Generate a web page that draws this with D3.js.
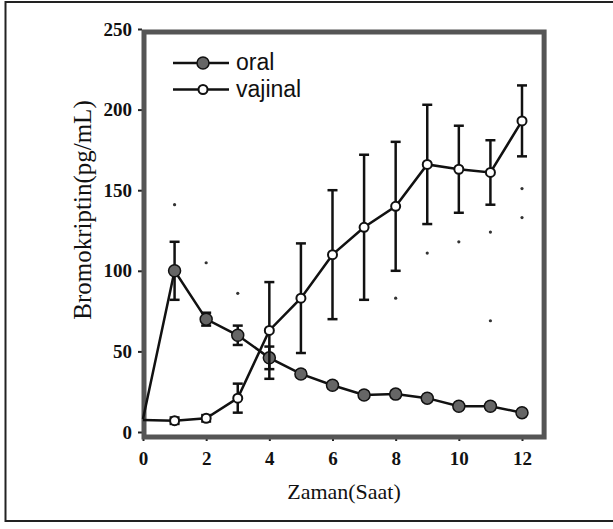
<!DOCTYPE html>
<html>
<head>
<meta charset="utf-8">
<script src="https://cdn.jsdelivr.net/npm/d3@7"></script>
<style>
  html, body { margin: 0; padding: 0; background: #fff; }
  svg { display: block; }
</style>
</head>
<body>
<svg id="chart" width="613" height="529"></svg>
<script>
// ---- data ----
const hours = [0, 1, 2, 3, 4, 5, 6, 7, 8, 9, 10, 11, 12];
const oralMean = [8, 100, 70, 60, 46, 36, 29, 23, 23.5, 21, 16, 16, 12];
const oralErr = [0, 18, 4, 6, 7, 2, 2, 2, 2, 2, 2, 2, 2];
const vajinalMean = [7.5, 7, 8.5, 21, 63, 83, 110, 127, 140, 166, 163, 161, 193];
const vajinalErr = [0, 2, 2, 9, 30, 34, 40, 45, 40, 37, 27, 20, 22];
// faint stray marks visible in the scanned figure
const faintX = [1, 2, 3, 8, 9, 10, 11, 12, 12, 11];
const faintY = [141, 105, 86, 83, 111, 118, 124, 133, 151, 69];
const xTicks = [0, 2, 4, 6, 8, 10, 12];
const yTicks = [0, 50, 100, 150, 200, 250];
const seriesNames = ["oral", "vajinal"];

// ---- drawing ----
const svg = d3.select("#chart");
const x = d3.scaleLinear().domain([0, 12]).range([143, 522]);
const y = d3.scaleLinear().domain([0, 250]).range([432, 29]);
const xRight = x(12.7), yTop = 32, yBottom = 437, xLeft = 144;

// outer frame
svg.append("rect").attr("x", 5.5).attr("y", 2).attr("width", 640).attr("height", 519)
  .attr("fill", "none").attr("stroke", "#222").attr("stroke-width", 2);

// axes
const serif = "'Liberation Serif', 'Times New Roman', serif";
const yAxis = svg.append("g").attr("transform", `translate(${xLeft - 2},0)`)
  .call(d3.axisLeft(y).tickValues(yTicks).tickSize(4).tickPadding(6));
yAxis.select(".domain").remove();
yAxis.selectAll("line").attr("stroke", "#222").attr("stroke-width", 2);
yAxis.selectAll("text").attr("font-family", serif).attr("font-weight", "bold")
  .attr("font-size", 19).attr("fill", "#111");

const xAxis = svg.append("g").attr("transform", `translate(0,${yBottom})`)
  .call(d3.axisBottom(x).tickValues(xTicks).tickSize(4).tickPadding(11));
xAxis.select(".domain").remove();
xAxis.selectAll("line").attr("stroke", "#222").attr("stroke-width", 2);
xAxis.selectAll("text").attr("font-family", serif).attr("font-weight", "bold")
  .attr("font-size", 19).attr("fill", "#111");

// plot frame
svg.append("rect").attr("x", xLeft).attr("y", yTop)
  .attr("width", xRight - xLeft).attr("height", yBottom - yTop)
  .attr("fill", "none").attr("stroke", "#555").attr("stroke-width", 5);

// faint marks
svg.append("g").selectAll("circle").data(faintX).join("circle")
  .attr("cx", (d) => x(d)).attr("cy", (d, i) => y(faintY[i])).attr("r", 1.6)
  .attr("fill", "#333");

function drawSeries(mean, err, filled) {
  const g = svg.append("g");
  const line = d3.line().x((d, i) => x(hours[i])).y((d) => y(d));
  g.append("path").datum(mean).attr("d", line).attr("fill", "none")
    .attr("stroke", "#111").attr("stroke-width", 2.5);
  const idx = hours.map((h, i) => i).filter((i) => err[i] > 0);
  g.selectAll("line.eb").data(idx).join("line").attr("class", "eb")
    .attr("x1", (i) => x(hours[i])).attr("x2", (i) => x(hours[i]))
    .attr("y1", (i) => y(mean[i] + err[i])).attr("y2", (i) => y(mean[i] - err[i]))
    .attr("stroke", "#111").attr("stroke-width", 2.5);
  [1, -1].forEach((s) => {
    g.selectAll("line.cap" + s).data(idx).join("line")
      .attr("x1", (i) => x(hours[i]) - 5).attr("x2", (i) => x(hours[i]) + 5)
      .attr("y1", (i) => y(mean[i] + s * err[i])).attr("y2", (i) => y(mean[i] + s * err[i]))
      .attr("stroke", "#111").attr("stroke-width", 2.5);
  });
  const pts = hours.map((h, i) => i).filter((i) => i > 0);
  g.selectAll("circle").data(pts).join("circle")
    .attr("cx", (i) => x(hours[i])).attr("cy", (i) => y(mean[i]))
    .attr("r", filled ? 6 : 4.5)
    .attr("fill", filled ? "#666" : "#fff")
    .attr("stroke", "#111").attr("stroke-width", filled ? 1.5 : 2);
}
drawSeries(oralMean, oralErr, true);
drawSeries(vajinalMean, vajinalErr, false);

// legend
const sans = "'Liberation Sans', Arial, Helvetica, sans-serif";
const legend = svg.append("g");
seriesNames.forEach((name, k) => {
  const ly = 63 + k * 26.5;
  legend.append("line").attr("x1", 173).attr("x2", 229).attr("y1", ly).attr("y2", ly)
    .attr("stroke", "#111").attr("stroke-width", 2.5);
  legend.append("circle").attr("cx", 203).attr("cy", ly).attr("r", k === 0 ? 6 : 4.5)
    .attr("fill", k === 0 ? "#666" : "#fff").attr("stroke", "#111")
    .attr("stroke-width", k === 0 ? 1.5 : 2);
  legend.append("text").attr("x", 236).attr("y", ly + 7).text(name)
    .attr("font-family", sans).attr("font-size", 23).attr("fill", "#111");
});

// axis titles
svg.append("text").attr("transform", "translate(91,210) rotate(-90)")
  .attr("text-anchor", "middle").attr("font-family", serif).attr("font-size", 25)
  .attr("fill", "#111").text("Bromokriptin(pg/mL)");
svg.append("text").attr("x", 344).attr("y", 499)
  .attr("text-anchor", "middle").attr("font-family", serif).attr("font-size", 22)
  .attr("fill", "#111").text("Zaman(Saat)");
</script>
</body>
</html>
